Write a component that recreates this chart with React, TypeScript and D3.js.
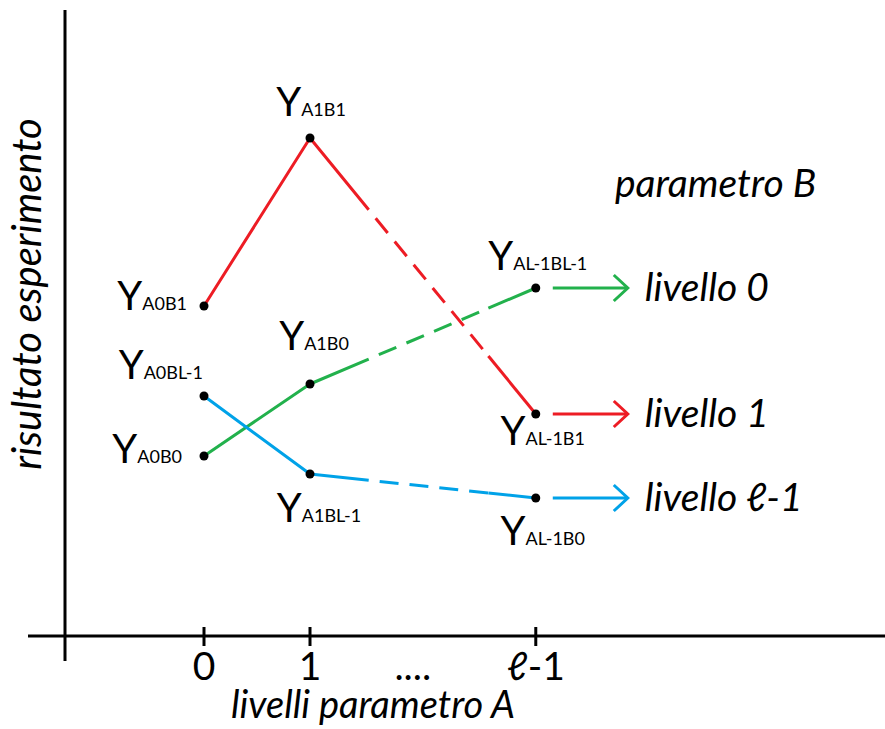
import React from "react";
import * as d3 from "d3";

// Levels of parameter A shown on the horizontal axis (position along the axis, label)
const levelA = ["0", "1", "ℓ-1"];
const levelPos = [0, 1, 3.13];
const ellipsisPos = 1.97;

// Series: one per level of parameter B
const seriesNames = ["livello 0", "livello 1", "livello ℓ-1"];
const seriesColors = ["#22b14c", "#ed1c24", "#00a2e8"];
const greenValues = [30, 42, 58];
const redValues = [55, 83, 37];
const blueValues = [40, 27, 23];
const greenLabels = ["A0B0", "A1B0", "AL-1BL-1"];
const redLabels = ["A0B1", "A1B1", "AL-1B1"];
const blueLabels = ["A0BL-1", "A1BL-1", "AL-1B0"];

const W = 885;
const H = 729;
const FONT = "Lato, 'Open Sans', sans-serif";

// Where each point label sits relative to its point
const labelPlacement: Record<string, { anchor: string; dx: number; dy: number }> = {
  A0B1: { anchor: "end", dx: -17, dy: 4 },
  "A0BL-1": { anchor: "end", dx: -1, dy: -17 },
  A0B0: { anchor: "end", dx: -22, dy: 7 },
  A1B1: { anchor: "middle", dx: 1, dy: -22 },
  A1B0: { anchor: "middle", dx: 4, dy: -34 },
  "A1BL-1": { anchor: "middle", dx: 9, dy: 48 },
  "AL-1B1": { anchor: "middle", dx: 7, dy: 31 },
  "AL-1BL-1": { anchor: "middle", dx: 2, dy: -18 },
  "AL-1B0": { anchor: "middle", dx: 7, dy: 47 },
};

export default function App() {
  const x = d3.scaleLinear().domain([0, 1]).range([204, 310]);
  const y = d3.scaleLinear().domain([0, 100]).range([636, 36]);
  const axisY = y(0);
  const axisX = 65;

  const series = [
    { values: greenValues, labels: greenLabels },
    { values: redValues, labels: redLabels },
    { values: blueValues, labels: blueLabels },
  ];

  const line = d3.line<[number, number]>();
  const lerp = (a: [number, number], b: [number, number], t: number): [number, number] => [
    a[0] + (b[0] - a[0]) * t,
    a[1] + (b[1] - a[1]) * t,
  ];

  return (
    <svg width={W} height={H} style={{ position: "absolute", left: 0, top: 0, background: "#fff" }}>
      {/* axes */}
      <line x1={axisX} y1={10} x2={axisX} y2={661} stroke="#000" strokeWidth={3} />
      <line x1={28} y1={axisY} x2={W} y2={axisY} stroke="#000" strokeWidth={3} />
      {levelPos.map((v, i) => (
        <g key={i}>
          <line x1={x(v)} y1={axisY - 9} x2={x(v)} y2={axisY + 10} stroke="#000" strokeWidth={3} />
          <text x={x(v)} y={680} textAnchor="middle" fontFamily={FONT} fontSize={39} fill="#000">
            {levelA[i]}
          </text>
        </g>
      ))}
      <text x={x(ellipsisPos)} y={680} textAnchor="middle" fontFamily={FONT} fontSize={39} fill="#000">
        ....
      </text>
      <text x={373} y={718} textAnchor="middle" fontFamily={FONT} fontSize={38} fontStyle="italic" fill="#000">
        livelli parametro A
      </text>
      <text
        transform={`translate(41, 294) rotate(-90)`}
        textAnchor="middle"
        fontFamily={FONT}
        fontSize={40}
        fontStyle="italic"
        fill="#000"
      >
        risultato esperimento
      </text>

      {/* series lines */}
      {series.map((s, si) => {
        const pts = s.values.map((v, i) => [x(levelPos[i]), y(v)] as [number, number]);
        const a = pts[1];
        const b = pts[2];
        const p1 = lerp(a, b, 0.26);
        const p2 = lerp(a, b, 0.79);
        const color = seriesColors[si];
        return (
          <g key={si}>
            <path d={line([pts[0], a, p1]) || ""} fill="none" stroke={color} strokeWidth={3} strokeLinejoin="round" />
            <path d={line([p1, p2]) || ""} fill="none" stroke={color} strokeWidth={3} strokeDasharray="19 11" strokeDashoffset={19} />
            <path d={line([p2, b]) || ""} fill="none" stroke={color} strokeWidth={3} />
            {/* arrow to the series name */}
            <line x1={b[0] + 17} y1={b[1]} x2={b[0] + 92} y2={b[1]} stroke={color} strokeWidth={3} />
            <path
              d={line([
                [b[0] + 78, b[1] - 13],
                [b[0] + 92, b[1]],
                [b[0] + 78, b[1] + 13],
              ]) || ""}
              fill="none"
              stroke={color}
              strokeWidth={3}
            />
            <text x={b[0] + 109} y={b[1] + 13} fontFamily={FONT} fontSize={39} fontStyle="italic" fill="#000">
              {seriesNames[si]}
            </text>
            {pts.map((p, i) => {
              const lab = s.labels[i];
              const pl = labelPlacement[lab];
              return (
                <g key={i}>
                  <circle cx={p[0]} cy={p[1]} r={4.5} fill="#000" />
                  <text x={p[0] + pl.dx} y={p[1] + pl.dy} textAnchor={pl.anchor} fontFamily={FONT} fill="#000">
                    <tspan fontSize={40}>Y</tspan>
                    <tspan fontSize={18}>{lab}</tspan>
                  </text>
                </g>
              );
            })}
          </g>
        );
      })}

      <text x={615} y={197} fontFamily={FONT} fontSize={39} fontStyle="italic" fill="#000">
        parametro B
      </text>
    </svg>
  );
}
